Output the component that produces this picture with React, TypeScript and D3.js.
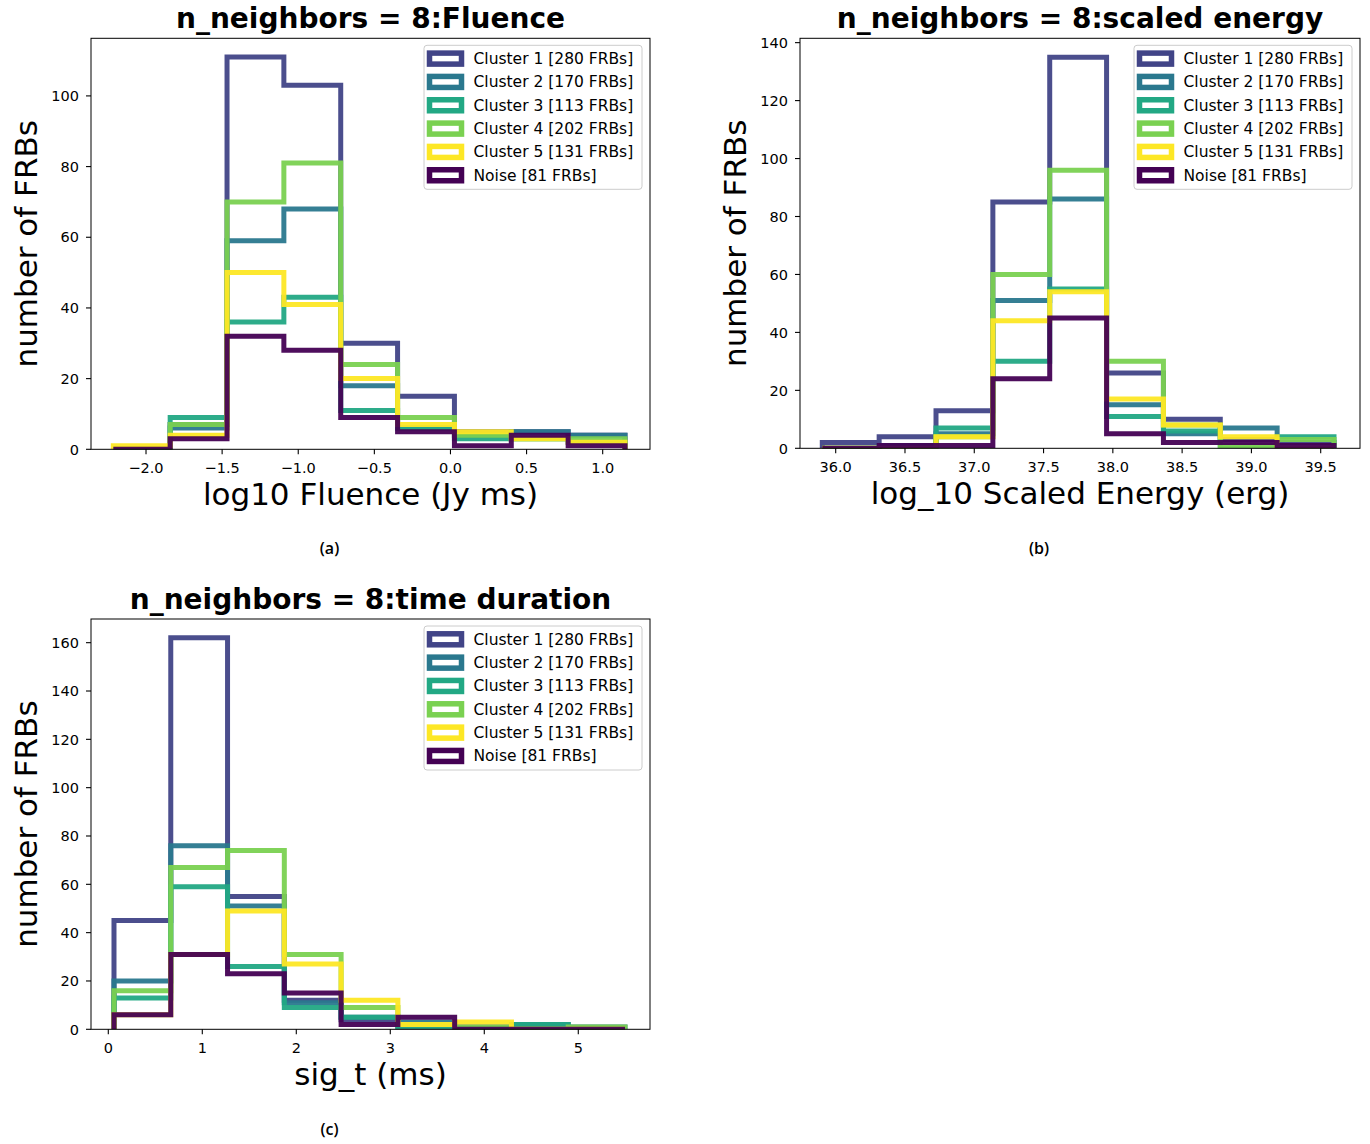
import React from "react";
import * as d3 from "d3";

// ---------- shared legend / series ----------
const seriesLabels = [
  "Cluster 1 [280 FRBs]",
  "Cluster 2 [170 FRBs]",
  "Cluster 3 [113 FRBs]",
  "Cluster 4 [202 FRBs]",
  "Cluster 5 [131 FRBs]",
  "Noise [81 FRBs]",
];
const seriesColorPos = [0.2, 0.4, 0.6, 0.8, 1.0, 0.0];

// ---------- (a) Fluence ----------
const fluenceEdges = [-2.2148, -1.8413, -1.4678, -1.0944, -0.7209, -0.3474, 0.0261, 0.3996, 0.7731, 1.1465];
const fluenceCluster1 = [0, 7, 111, 103, 30, 15, 5, 5, 4];
const fluenceCluster2 = [0, 6, 59, 68, 18, 6, 4, 5, 4];
const fluenceCluster3 = [0, 9, 36, 43, 11, 6, 3, 3, 2];
const fluenceCluster4 = [0, 7, 70, 81, 24, 9, 4, 3, 3];
const fluenceCluster5 = [1, 4, 50, 41, 20, 7, 5, 3, 2];
const fluenceNoise = [0, 3, 32, 28, 9, 5, 1, 4, 1];
const fluenceXTicks = [-2.0, -1.5, -1.0, -0.5, 0.0, 0.5, 1.0];
const fluenceYTicks = [0, 20, 40, 60, 80, 100];

// ---------- (b) Scaled energy ----------
const energyEdges = [35.9033, 36.3136, 36.7239, 37.1342, 37.5445, 37.9548, 38.3651, 38.7754, 39.1857, 39.596];
const energyCluster1 = [2, 4, 13, 85, 135, 26, 10, 3, 2];
const energyCluster2 = [0, 1, 5, 51, 86, 15, 5, 7, 0];
const energyCluster3 = [0, 0, 7, 30, 55, 11, 6, 0, 4];
const energyCluster4 = [0, 0, 4, 60, 96, 30, 8, 1, 3];
const energyCluster5 = [0, 0, 4, 44, 54, 17, 8, 4, 0];
const energyNoise = [0, 1, 1, 24, 45, 5, 2, 2, 1];
const energyXTicks = [36.0, 36.5, 37.0, 37.5, 38.0, 38.5, 39.0, 39.5];
const energyYTicks = [0, 20, 40, 60, 80, 100, 120, 140];

// ---------- (c) Time duration ----------
const sigtEdges = [0.0606, 0.6646, 1.2687, 1.8727, 2.4768, 3.0808, 3.6848, 4.2889, 4.8929, 5.497];
const sigtCluster1 = [45, 162, 55, 12, 4, 1, 1, 0, 0];
const sigtCluster2 = [20, 76, 51, 11, 5, 3, 1, 2, 1];
const sigtCluster3 = [13, 59, 26, 9, 5, 0, 0, 2, 0];
const sigtCluster4 = [16, 67, 74, 31, 9, 2, 1, 0, 1];
const sigtCluster5 = [6, 31, 49, 27, 12, 2, 3, 0, 0];
const sigtNoise = [6, 31, 23, 15, 2, 5, 0, 0, 0];
const sigtXTicks = [0, 1, 2, 3, 4, 5];
const sigtYTicks = [0, 20, 40, 60, 80, 100, 120, 140, 160];

const FONT = "'DejaVu Sans', sans-serif";

type PanelProps = {
  id: string;
  frame: { left: number; right: number; top: number; bottom: number };
  xDomain: [number, number];
  yMax: number;
  edges: number[];
  series: number[][];
  xTicks: number[];
  yTicks: number[];
  xFormat: (v: number) => string;
  title: string;
  xLabel: string;
  caption: string;
  captionY: number;
};

function Panel(p: PanelProps) {
  const { frame } = p;
  const x = d3.scaleLinear().domain(p.xDomain).range([frame.left, frame.right]);
  const y = d3.scaleLinear().domain([0, p.yMax]).range([frame.bottom, frame.top]);
  const line = d3.line<[number, number]>().x((d) => d[0]).y((d) => d[1]);

  const stepPath = (counts: number[]) => {
    const pts: [number, number][] = [[x(p.edges[0]), y(0)]];
    counts.forEach((c, i) => {
      pts.push([x(p.edges[i]), y(c)]);
      pts.push([x(p.edges[i + 1]), y(c)]);
    });
    pts.push([x(p.edges[p.edges.length - 1]), y(0)]);
    return line(pts) || "";
  };

  const cx = (frame.left + frame.right) / 2;
  const cy = (frame.top + frame.bottom) / 2;
  const legW = 218;
  const legH = 144;
  const legL = frame.right - 8 - legW;
  const legT = frame.top + 7;
  const rowH = 23.33;

  return (
    <g>
      <defs>
        <clipPath id={`clip-${p.id}`}>
          <rect x={frame.left} y={frame.top} width={frame.right - frame.left} height={frame.bottom - frame.top} />
        </clipPath>
      </defs>
      <g clipPath={`url(#clip-${p.id})`}>
        {p.series.map((s, i) => (
          <path
            key={i}
            d={stepPath(s)}
            fill="none"
            stroke={d3.interpolateViridis(seriesColorPos[i])}
            strokeOpacity={0.95}
            strokeWidth={5}
            strokeLinejoin="miter"
          />
        ))}
      </g>
      {/* frame */}
      <rect
        x={frame.left}
        y={frame.top}
        width={frame.right - frame.left}
        height={frame.bottom - frame.top}
        fill="none"
        stroke="#000"
        strokeWidth={1}
      />
      {/* x ticks */}
      {p.xTicks.map((t) => (
        <g key={`xt${t}`}>
          <line x1={x(t)} x2={x(t)} y1={frame.bottom} y2={frame.bottom + 5} stroke="#000" strokeWidth={1.1} />
          <text x={x(t)} y={frame.bottom + 24} textAnchor="middle" fontSize={14.5} fontFamily={FONT} fill="#000">
            {p.xFormat(t)}
          </text>
        </g>
      ))}
      {/* y ticks */}
      {p.yTicks.map((t) => (
        <g key={`yt${t}`}>
          <line x1={frame.left - 5} x2={frame.left} y1={y(t)} y2={y(t)} stroke="#000" strokeWidth={1.1} />
          <text x={frame.left - 12} y={y(t) + 5.2} textAnchor="end" fontSize={14.5} fontFamily={FONT} fill="#000">
            {t}
          </text>
        </g>
      ))}
      {/* title */}
      <text x={cx} y={frame.top - 10} textAnchor="middle" fontSize={28} fontWeight="bold" fontFamily={FONT} fill="#000">
        {p.title}
      </text>
      {/* x label */}
      <text x={cx} y={frame.bottom + 56} textAnchor="middle" fontSize={31} fontFamily={FONT} fill="#000">
        {p.xLabel}
      </text>
      {/* y label */}
      <text
        transform={`translate(${frame.left - 54},${cy}) rotate(-90)`}
        textAnchor="middle"
        fontSize={31}
        fontFamily={FONT}
        fill="#000"
      >
        number of FRBs
      </text>
      {/* legend */}
      <rect x={legL} y={legT} width={legW} height={legH} rx={3} fill="#fff" fillOpacity={0.8} stroke="#cccccc" strokeWidth={1} />
      {seriesLabels.map((lab, i) => {
        const rc = legT + 13.3 + i * rowH;
        return (
          <g key={lab}>
            <rect
              x={legL + 5.5}
              y={rc - 5.5}
              width={32}
              height={11}
              fill="#fff"
              stroke={d3.interpolateViridis(seriesColorPos[i])}
              strokeWidth={5.5}
            />
            <text x={legL + 49.5} y={rc + 5.5} fontSize={15.5} fontFamily={FONT} fill="#000">
              {lab}
            </text>
          </g>
        );
      })}
      {/* caption */}
      <text x={cx - 41} y={p.captionY} textAnchor="middle" fontSize={16} fontWeight={600} fontFamily="'Open Sans', sans-serif" fill="#000">
        {p.caption}
      </text>
    </g>
  );
}

export default function App() {
  const f1 = d3.format(".1f");
  const fi = d3.format("d");
  return (
    <svg
      width={1370}
      height={1144}
      style={{ position: "absolute", left: 0, top: 0, background: "#fff" }}
      xmlns="http://www.w3.org/2000/svg"
    >
      <rect x={0} y={0} width={1370} height={1144} fill="#fff" />
      <Panel
        id="a"
        frame={{ left: 91, right: 650, top: 38.3, bottom: 449.3 }}
        xDomain={[-2.3614, 1.3108]}
        yMax={116.3}
        edges={fluenceEdges}
        series={[fluenceCluster1, fluenceCluster2, fluenceCluster3, fluenceCluster4, fluenceCluster5, fluenceNoise]}
        xTicks={fluenceXTicks}
        yTicks={fluenceYTicks}
        xFormat={f1}
        title="n_neighbors = 8:Fluence"
        xLabel="log10 Fluence (Jy ms)"
        caption="(a)"
        captionY={554}
      />
      <Panel
        id="b"
        frame={{ left: 800, right: 1360, top: 38.3, bottom: 448.3 }}
        xDomain={[35.7424, 39.7836]}
        yMax={141.5}
        edges={energyEdges}
        series={[energyCluster1, energyCluster2, energyCluster3, energyCluster4, energyCluster5, energyNoise]}
        xTicks={energyXTicks}
        yTicks={energyYTicks}
        xFormat={f1}
        title="n_neighbors = 8:scaled energy"
        xLabel="log_10 Scaled Energy (erg)"
        caption="(b)"
        captionY={554}
      />
      <Panel
        id="c"
        frame={{ left: 91, right: 650, top: 619, bottom: 1029.3 }}
        xDomain={[-0.184, 5.763]}
        yMax={169.8}
        edges={sigtEdges}
        series={[sigtCluster1, sigtCluster2, sigtCluster3, sigtCluster4, sigtCluster5, sigtNoise]}
        xTicks={sigtXTicks}
        yTicks={sigtYTicks}
        xFormat={fi}
        title="n_neighbors = 8:time duration"
        xLabel="sig_t (ms)"
        caption="(c)"
        captionY={1135}
      />
    </svg>
  );
}
